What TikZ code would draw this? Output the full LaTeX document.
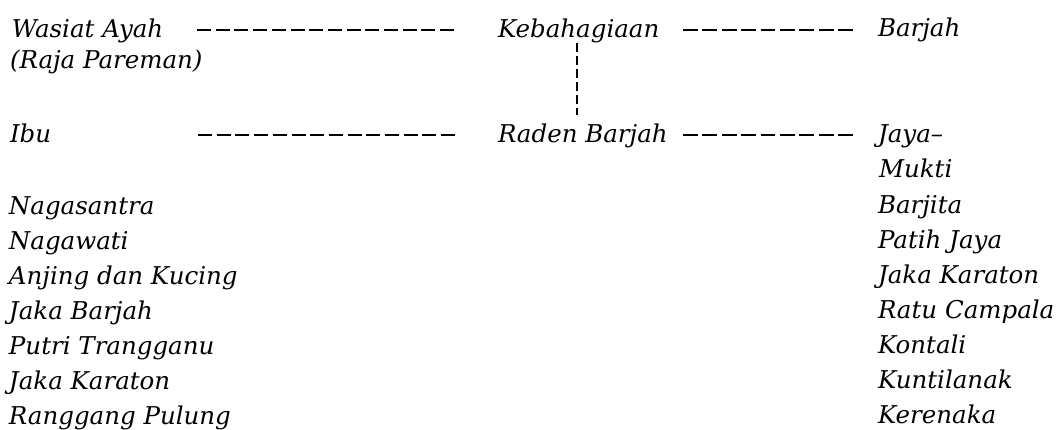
\documentclass[tikz,border=0pt]{standalone}
\usepackage{fontspec}
\setmainfont{DejaVu Serif}
\usetikzlibrary{calc}
\begin{document}
\begin{tikzpicture}[x=1pt,y=-1pt,
  lbl/.style={anchor=base west,inner sep=0pt,outer sep=0pt,font=\fontsize{24.5}{24.5}\selectfont\itshape},
  dl/.style={line width=1.5pt,dash pattern=on 14pt off 4.7pt},
  dlr/.style={line width=1.5pt,dash pattern=on 14.7pt off 4.7pt},
  vdl/.style={line width=1.2pt,dash pattern=on 8.5pt off 4.5pt}]
\useasboundingbox (0,0) rectangle (1057,429);
% row 1
\node[lbl] (wasiat) at (12,37) {Wasiat Ayah};
\node[lbl] (raja) at (10,68) {(Raja Pareman)};
\node[lbl] (keb) at (498,37) {Kebahagiaan};
\node[lbl] (barjah) at (878,36) {Barjah};
% row 2
\node[lbl] (ibu) at (10,142) {Ibu};
\node[lbl] (raden) at (498,142) {Raden Barjah};
\node[lbl] (jaya) at (878,142) {Jaya–};
\node[lbl] (mukti) at (879,177) {Mukti};
% left list
\node[lbl] (l1) at (9,214) {Nagasantra};
\node[lbl] (l2) at (9,249) {Nagawati};
\node[lbl] (l3) at (9,284) {Anjing dan Kucing};
\node[lbl] (l4) at (9,319) {Jaka Barjah};
\node[lbl] (l5) at (9,354) {Putri Trangganu};
\node[lbl] (l6) at (9,389) {Jaka Karaton};
\node[lbl] (l7) at (9,424) {Ranggang Pulung};
% right list
\node[lbl] (r1) at (878,213) {Barjita};
\node[lbl] (r2) at (878,248) {Patih Jaya};
\node[lbl] (r3) at (878,283) {Jaka Karaton};
\node[lbl] (r4) at (878,318) {Ratu Campala};
\node[lbl] (r5) at (878,353) {Kontali};
\node[lbl] (r6) at (878,388) {Kuntilanak};
\node[lbl] (r7) at (878,423) {Kerenaka};
% connectors
\draw[dl] ($(wasiat.base west)+(185,-7)$) -- ($(keb.base west)+(-43,-7)$);
\draw[dlr] ($(keb.base west)+(185,-7)$) -- ($(barjah.base west)+(-25,-6)$);
\draw[dl] ($(ibu.base west)+(188,-7)$) -- ($(raden.base west)+(-43,-7)$);
\draw[dlr] ($(raden.base west)+(185,-7)$) -- ($(jaya.base west)+(-25,-7)$);
\draw[vdl] ($(keb.base west)+(79,6)$) -- ($(raden.base west)+(79,-27)$);
\end{tikzpicture}
\end{document}
